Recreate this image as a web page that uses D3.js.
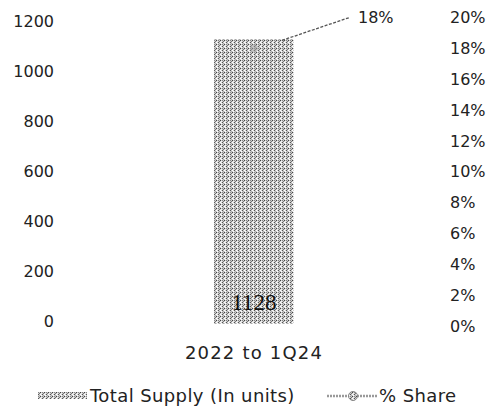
<!DOCTYPE html>
<html><head><meta charset="utf-8">
<script src="https://cdn.jsdelivr.net/npm/d3@7"></script>
<style>body{margin:0;background:#fff}svg{display:block}text{font-family:"DejaVu Sans",sans-serif;fill:#222}</style>
</head><body>
<script>
const categories = ["2022 to 1Q24"];
const supply = [1128];
const share = [18];
const leftTicks = [0,200,400,600,800,1000,1200];
const rightTicks = [0,2,4,6,8,10,12,14,16,18,20];

const W=493,H=416;
const svg=d3.select("body").append("svg").attr("width",W).attr("height",H);
const defs=svg.append("defs");
const pat=defs.append("pattern").attr("id","dither").attr("width",4).attr("height",4).attr("patternUnits","userSpaceOnUse");
pat.append("rect").attr("width",4).attr("height",4).attr("fill","#cfcfcf");
[[0,0,"#444"],[2,2,"#555"],[2,0,"#888"],[0,2,"#fff"],[1,1,"#f4f4f4"],[3,3,"#aaa"],[1,3,"#fff"],[3,1,"#777"]]
  .forEach(([px,py,c])=>pat.append("rect").attr("x",px).attr("y",py).attr("width",1).attr("height",1).attr("fill",c));

const x=d3.scaleBand().domain(categories).range([75,433]).paddingInner(0).paddingOuter(1.74);
const yL=d3.scaleLinear().domain([0,1200]).range([321,21]);
const yR=d3.scaleLinear().domain([0,20]).range([326,17.5]);

svg.append("g").selectAll("text").data(leftTicks).join("text")
  .attr("x",54).attr("y",d=>yL(d)).attr("dy","0.35em").attr("text-anchor","end")
  .attr("font-size",16).text(d=>d);
svg.append("g").selectAll("text").data(rightTicks).join("text")
  .attr("x",450).attr("y",d=>yR(d)).attr("dy","0.35em").attr("text-anchor","start")
  .attr("font-size",16).text(d=>d+"%");

svg.append("g").selectAll("rect").data(supply).join("rect")
  .attr("x",(d,i)=>x(categories[i])).attr("width",x.bandwidth())
  .attr("y",d=>yL(d)).attr("height",d=>yL(0)-yL(d)+3)
  .attr("fill","url(#dither)");
svg.append("g").selectAll("text").data(supply).join("text")
  .attr("x",(d,i)=>x(categories[i])+x.bandwidth()/2).attr("y",310)
  .attr("text-anchor","middle").attr("font-size",23)
  .style("font-family","'Liberation Serif',serif").style("fill","#111").text(d=>d);

svg.append("g").selectAll("text").data(categories).join("text")
  .attr("x",d=>x(d)+x.bandwidth()/2).attr("y",353).attr("dy","0.35em")
  .attr("text-anchor","middle").attr("font-size",18).attr("letter-spacing",1.2).text(d=>d);

const pts=share.map((v,i)=>({cx:x(categories[i])+x.bandwidth()/2,cy:yR(v),v}));
svg.append("g").selectAll("circle").data(pts).join("circle")
  .attr("cx",d=>d.cx).attr("cy",d=>d.cy).attr("r",4).attr("fill","#999").attr("opacity",0.5);
svg.append("g").selectAll("line").data(pts).join("line")
  .attr("x1",d=>d.cx+28).attr("y1",d=>d.cy-8).attr("x2",d=>d.cx+96).attr("y2",d=>d.cy-31)
  .attr("stroke","#555").attr("stroke-width",1.3).attr("stroke-dasharray","3,1.5");
svg.append("g").selectAll("text").data(pts).join("text")
  .attr("x",d=>d.cx+104).attr("y",d=>d.cy-31).attr("dy","0.35em")
  .attr("font-size",16).text(d=>d.v+"%");

const lg=svg.append("g");
lg.append("rect").attr("x",38).attr("y",392).attr("width",49).attr("height",7).attr("fill","url(#dither)");
lg.append("text").attr("x",90).attr("y",396).attr("dy","0.35em").attr("font-size",18).attr("letter-spacing",0.4).text("Total Supply (In units)");
lg.append("line").attr("x1",327).attr("x2",378).attr("y1",396).attr("y2",396)
  .attr("stroke","#999").attr("stroke-width",2.5).attr("stroke-dasharray","2,1");
lg.append("circle").attr("cx",353).attr("cy",396).attr("r",4.5).attr("fill","url(#dither)").attr("stroke","#888");
lg.append("text").attr("x",379).attr("y",396).attr("dy","0.35em").attr("font-size",18).attr("letter-spacing",0.4).text("% Share");
</script>
</body></html>
